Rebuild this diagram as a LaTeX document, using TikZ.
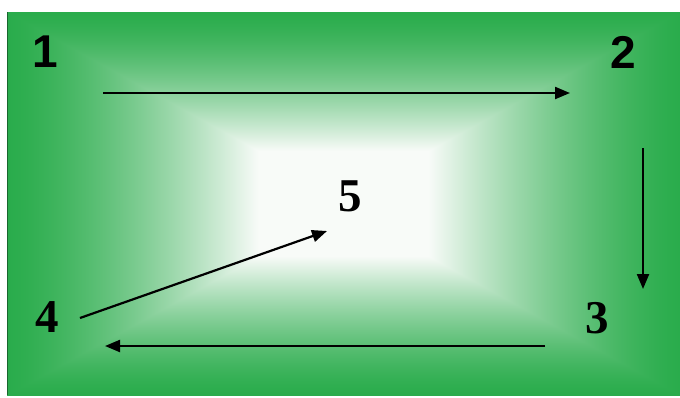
\documentclass[tikz,border=0pt]{standalone}
\usepackage{fontspec}
\setmainfont{Liberation Serif}
\newfontfamily\arialbf{Liberation Sans}[BoldFont=* Bold]
\usetikzlibrary{arrows.meta}
\definecolor{edgegreen}{RGB}{42,172,76}
% rectangular gradient: white centre, green edges
\pgfdeclarefunctionalshading{rectglow}{\pgfpoint{0bp}{0bp}}{\pgfpoint{100bp}{100bp}}{}{
  exch 50 sub abs 6.3 sub 18.7 div dup 0 lt {pop 0} if
  exch 50 sub abs 6.85 sub 18.15 div dup 0 lt {pop 0} if
  2 copy lt {exch} if pop
  dup 1 gt {pop 1} if
  1 exch sub 1.4 exp 1 exch sub
  dup dup
  -0.675 mul 0.973 add
  3 1 roll
  -0.309 mul 0.984 add
  3 1 roll
  -0.808 mul 0.973 add
  3 1 roll
}
\tikzset{
  numsans/.style={inner sep=0pt, font=\arialbf\bfseries\fontsize{46}{46}\selectfont},
  numserif/.style={inner sep=0pt, font=\bfseries\fontsize{47}{47}\selectfont},
  flow/.style={->, line width=2.2pt}
}

\begin{document}
\begin{tikzpicture}[x=1pt, y=-1pt, >={Triangle[length=15pt,width=12pt]}]
    \useasboundingbox (0,0) rectangle (680,397);
    % background
    \shade[shading=rectglow] (7,12) rectangle (680,395);
    \draw[edgegreen!60!black, line width=1.5pt] (7.5,12) -- (7.5,395);
    % numbers
    \node[numsans] (n1) at (45,52) {1};
    \node[numsans] (n2) at (623,52) {2};
    \node[numserif] (n3) at (597,318) {3};
    \node[numserif] (n4) at (47,317) {4};
    \node[numserif] (n5) at (350,196) {5};
    % arrows
    \coordinate (a12s) at (103,93);
    \coordinate (a12e) at (570,93);
    \coordinate (a23s) at (643,148);
    \coordinate (a23e) at (643,289);
    \coordinate (a34s) at (545,346);
    \coordinate (a34e) at (105,346);
    \coordinate (a45s) at (80,318);
    \coordinate (a45e) at (327,231);
    \draw[flow] (a12s) -- (a12e);
    \draw[flow] (a23s) -- (a23e);
    \draw[flow] (a34s) -- (a34e);
    \draw[flow] (a45s) -- (a45e);
\end{tikzpicture}
\end{document}
